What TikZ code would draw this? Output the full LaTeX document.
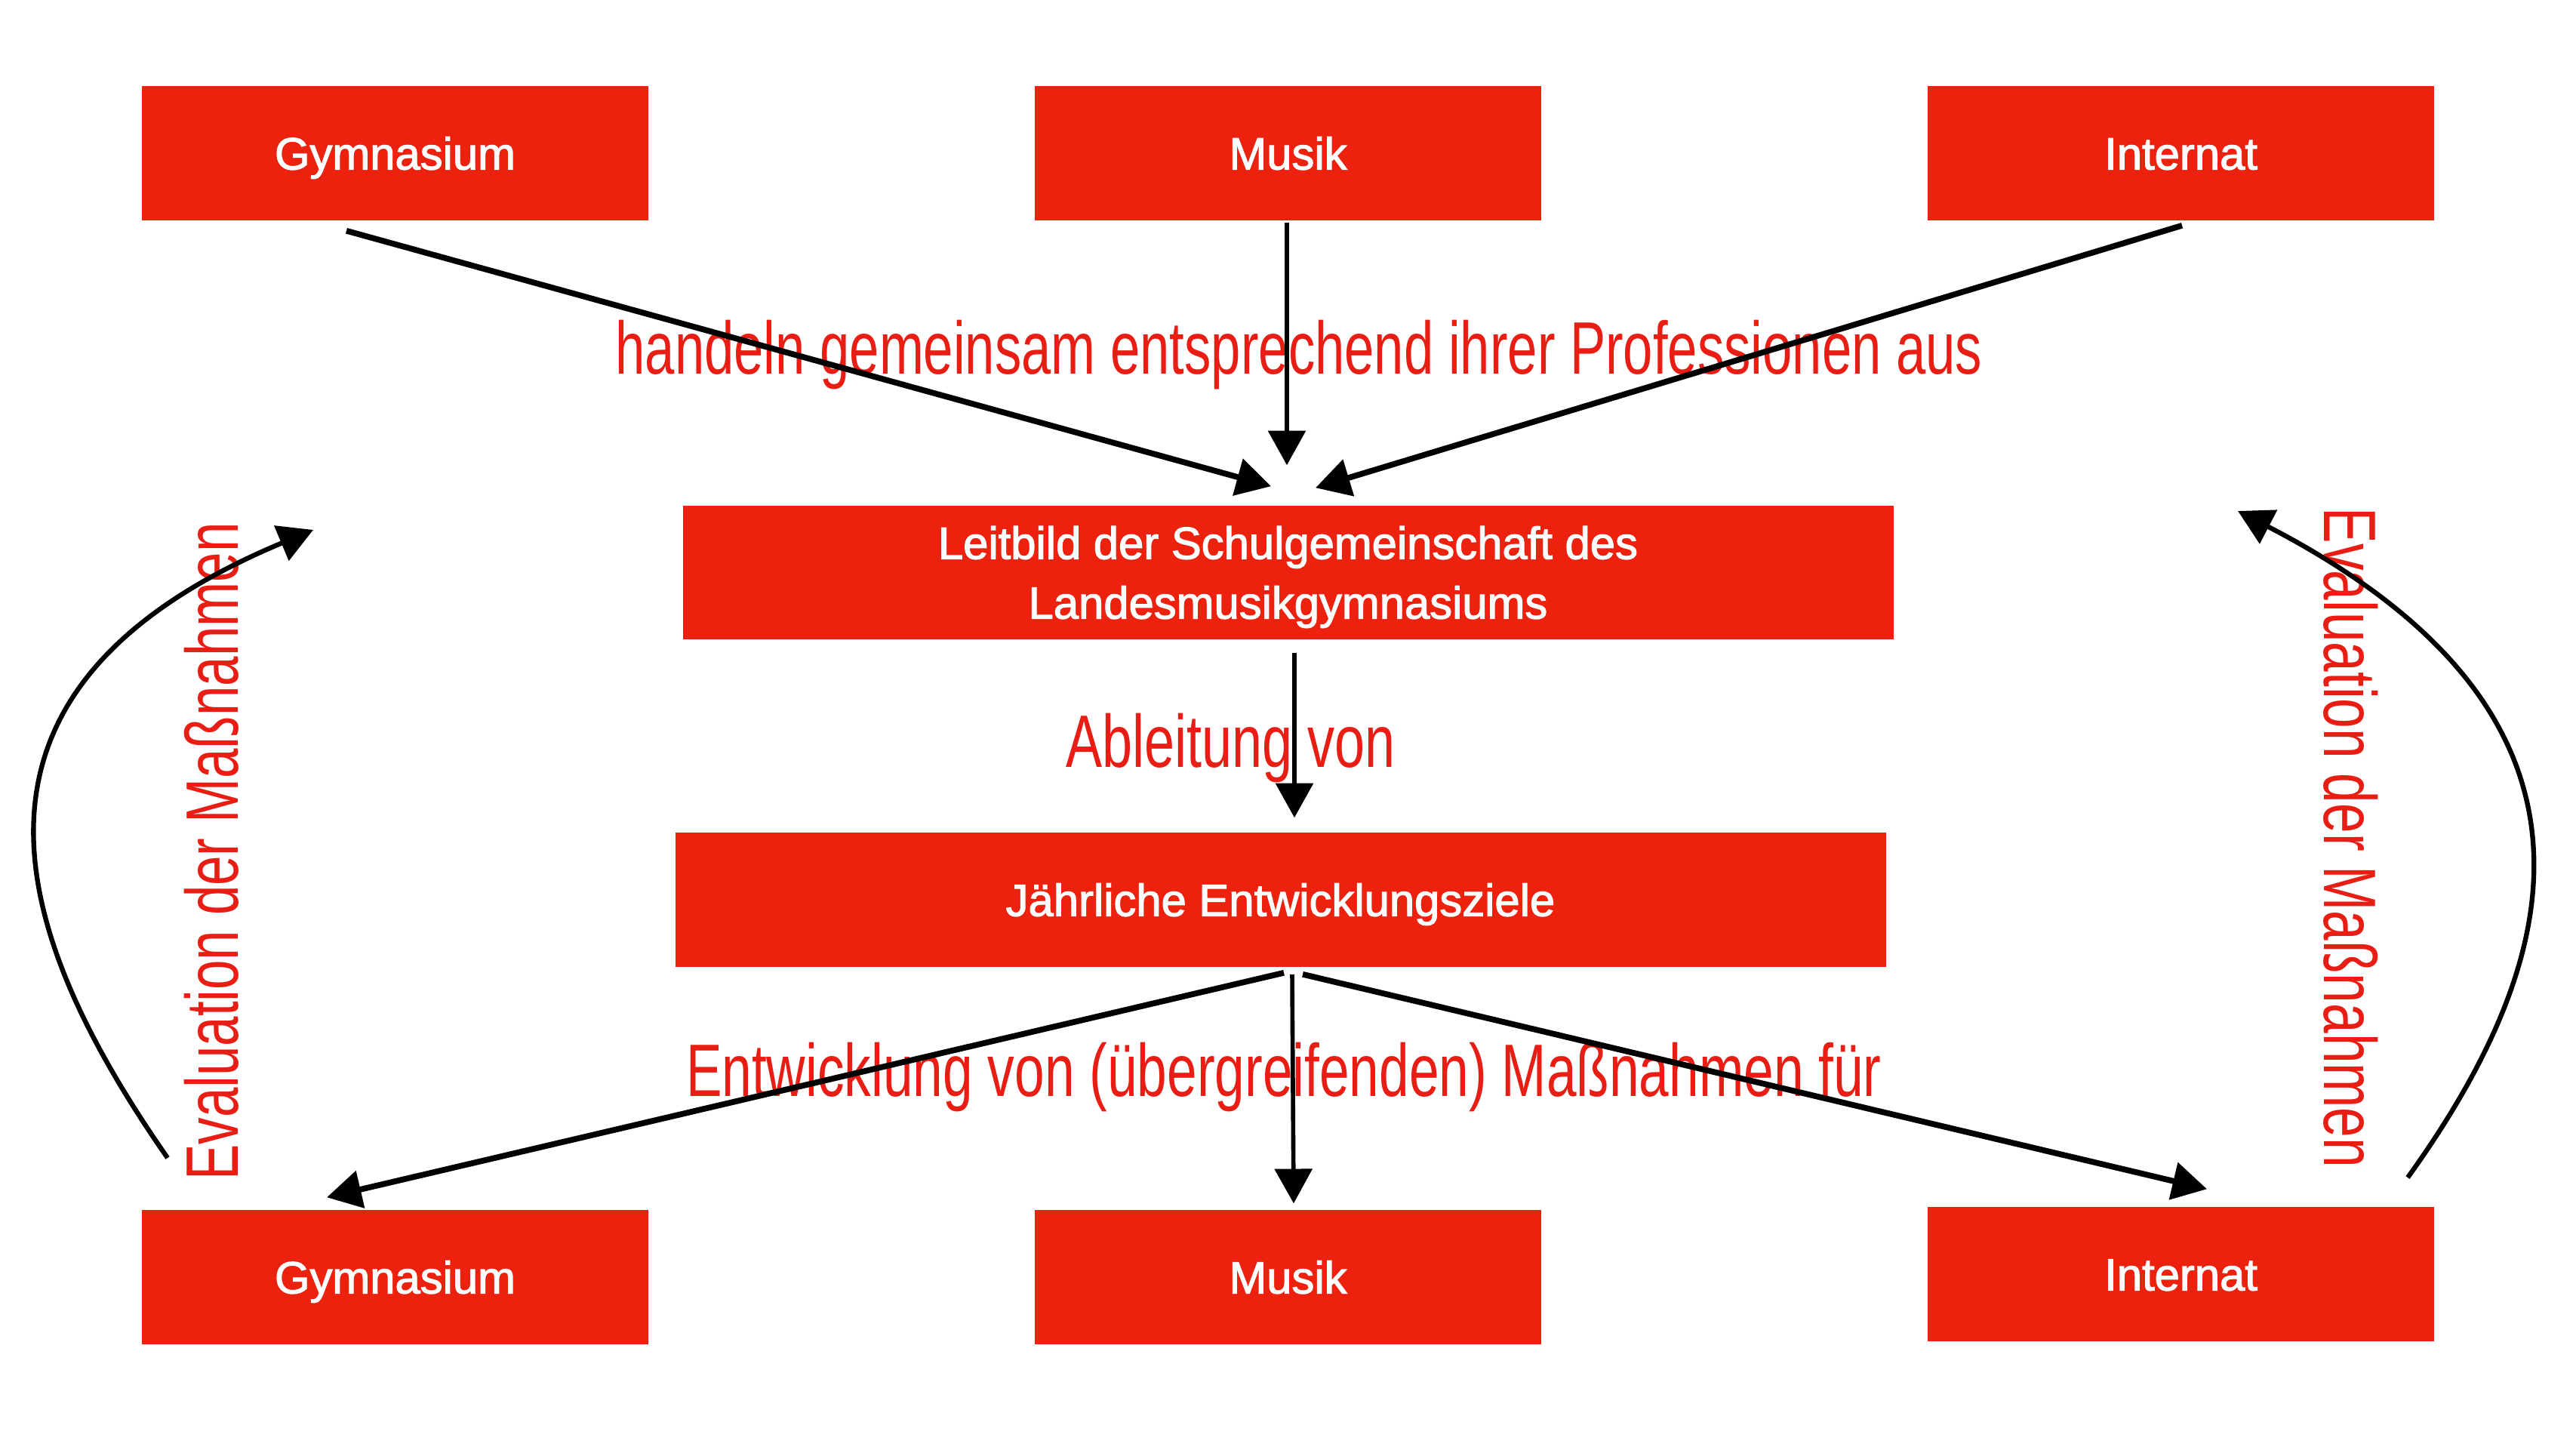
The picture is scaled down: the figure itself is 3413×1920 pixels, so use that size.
\documentclass[tikz,border=0pt]{standalone}
\usepackage{fontspec}
\setmainfont{Liberation Sans}
\newfontfamily\boxfont{Liberation Sans}[FakeBold=2]
\usetikzlibrary{arrows.meta,calc}
\definecolor{boxred}{RGB}{236,34,14}
\definecolor{hwred}{RGB}{232,30,20}
\begin{document}
\begin{tikzpicture}[x=0.01cm,y=-0.01cm,
  box/.style={fill=boxred, draw=none, minimum width=6.71cm, minimum height=1.78cm,
    inner sep=0pt, text=white, font=\boxfont\fontsize{17}{22.5}\selectfont,
    text height=12.2pt, text depth=0pt, align=center},
  widebox/.style={box, minimum width=16.03cm},
  arr/.style={draw=black, line width=2.2pt, -{Triangle[length=13pt,width=14pt]}},
  varr/.style={arr, line width=1.6pt},
  carr/.style={arr, line width=1.8pt},
  hw/.style={text=hwred, inner sep=0pt, anchor=base, font=\fontsize{28}{30}\selectfont}]
\useasboundingbox (0,0) rectangle (3413,1920);
% boxes
\node[box] (g1) at (523.5,203) {Gymnasium};
\node[box] (m1) at (1706.5,203) {Musik};
\node[box] (i1) at (2889.5,203) {Internat};
\node[widebox, minimum height=1.77cm, text height=34.7pt] (leit) at (1706.5,758.5) {Leitbild der Schulgemeinschaft des\\Landesmusikgymnasiums};
\node[widebox] (jahr) at (1696.5,1192) {Jährliche Entwicklungsziele};
\node[box] (g2) at (523.5,1692) {Gymnasium};
\node[box] (m2) at (1706.5,1692) {Musik};
\node[box] (i2) at (2889.5,1688) {Internat};
% labels
\node[hw] (lab1) at (1721,495) {\resizebox{18.1cm}{\height}{handeln gemeinsam entsprechend ihrer Professionen aus}};
\node[hw] (lab2) at (1631,1016) {\resizebox{4.36cm}{\height}{Ableitung von}};
\node[hw] (lab3) at (1701,1452) {\resizebox{15.83cm}{\height}{Entwicklung von (übergreifenden) Maßnahmen für}};
\node[hw, rotate=90] (lab4) at (315,1128) {\resizebox{8.71cm}{\height}{Evaluation der Maßnahmen}};
\node[hw, rotate=-90] (lab5) at (3079,1110) {\resizebox{8.74cm}{\height}{Evaluation der Maßnahmen}};
% connectors top
\draw[arr] ($(g1.south)+(-64.5,13)$) -- ($(leit.north)+(-22.5,-25)$);
\draw[varr] ($(m1.south)+(-1.5,2)$) -- ($(leit.north)+(-1.5,-53)$);
\draw[arr] ($(i1.south)+(1.5,6)$) -- ($(leit.north)+(36.5,-23)$);
\draw[varr] ($(leit.south)+(8.5,17)$) -- ($(jahr.north)+(18.5,-19)$);
% connectors bottom
\draw[arr] ($(jahr.south)+(4.5,7)$) -- ($(g2.north)+(-90.5,-16)$);
\draw[varr] ($(jahr.south)+(15.5,9)$) -- ($(m2.north)+(7.5,-8)$);
\draw[arr] ($(jahr.south)+(29.5,9)$) -- ($(i2.north)+(34.5,-23)$);
% evaluation curves
\coordinate (evLs) at (222,1534);
\coordinate (evLe) at (415,702);
\coordinate (evRs) at (3190,1560);
\coordinate (evRe) at (2965,677);
\draw[carr] (evLs) .. controls (6,1224) and (-85,911) .. (evLe);
\draw[carr] (evRs) .. controls (3386,1287) and (3500,954) .. (evRe);
\end{tikzpicture}
\end{document}
